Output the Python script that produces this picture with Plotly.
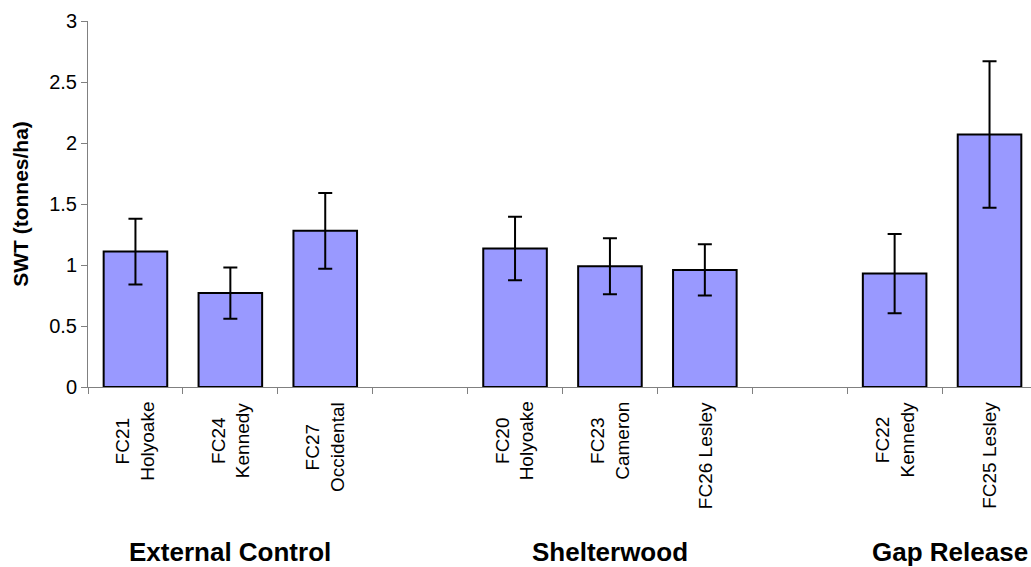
import plotly.graph_objects as go

categories = ["FC21<br>Holyoake", "FC24<br>Kennedy", "FC27<br>Occidental", " ",
              "FC20<br>Holyoake", "FC23<br>Cameron", "FC26 Lesley", "  ",
              "FC22<br>Kennedy", "FC25 Lesley"]
swt = [1.11, 0.77, 1.28, None, 1.135, 0.99, 0.96, None, 0.93, 2.07]
err = [0.27, 0.21, 0.31, None, 0.26, 0.23, 0.21, None, 0.325, 0.60]
groups = ["External Control", "Shelterwood", "Gap Release"]
group_x = [1, 5, 8.58]

FONT = "Liberation Sans, Arial, sans-serif"

fig = go.Figure()
fig.add_trace(go.Bar(
    x=categories, y=swt,
    marker=dict(color="#9999FF", line=dict(color="black", width=2)),
    width=0.67,
    error_y=dict(type="data", array=err, visible=True, color="black",
                 thickness=2, width=7),
))

# category labels, rotated, centre-aligned lines
for c in categories:
    if c.strip():
        fig.add_annotation(text=c, x=c, xref="x", y=-0.035, yref="paper",
                           textangle=-90, xanchor="center", yanchor="top",
                           align="center", showarrow=False,
                           font=dict(family=FONT, size=19, color="black"))

for g, gx in zip(groups, group_x):
    fig.add_annotation(text="<b>%s</b>" % g, x=gx, xref="x", y=-0.451, yref="paper",
                       yanchor="middle", xanchor="center", showarrow=False,
                       font=dict(family=FONT, size=26, color="black"))

fig.update_layout(
    width=1031, height=567,
    margin=dict(l=88, r=0, t=21, b=180),
    plot_bgcolor="white", paper_bgcolor="white",
    showlegend=False,
    font=dict(family=FONT, color="black"),
)
fig.update_xaxes(
    type="category", categoryorder="array", categoryarray=categories,
    range=[-0.5, 9.437],
    showline=True, linecolor="#808080", linewidth=1,
    ticks="outside", tickson="boundaries", ticklen=6, tickcolor="#808080",
    showticklabels=False,
    showgrid=False, zeroline=False,
)
fig.update_yaxes(
    range=[0, 3], tickvals=[0, 0.5, 1, 1.5, 2, 2.5, 3],
    ticktext=["0", "0.5", "1", "1.5", "2", "2.5", "3"],
    showline=True, linecolor="#808080", linewidth=1,
    ticks="outside", ticklen=6, tickcolor="#808080",
    tickfont=dict(family=FONT, size=20, color="black"),
    showgrid=False, zeroline=False,
    title=dict(text="<b>SWT (tonnes/ha)</b>", font=dict(family=FONT, size=21, color="black"),
               standoff=14),
)

fig.write_html("out.html", config={"displayModeBar": False},
               post_script="document.body.style.margin='0';document.body.style.overflow='hidden';")
